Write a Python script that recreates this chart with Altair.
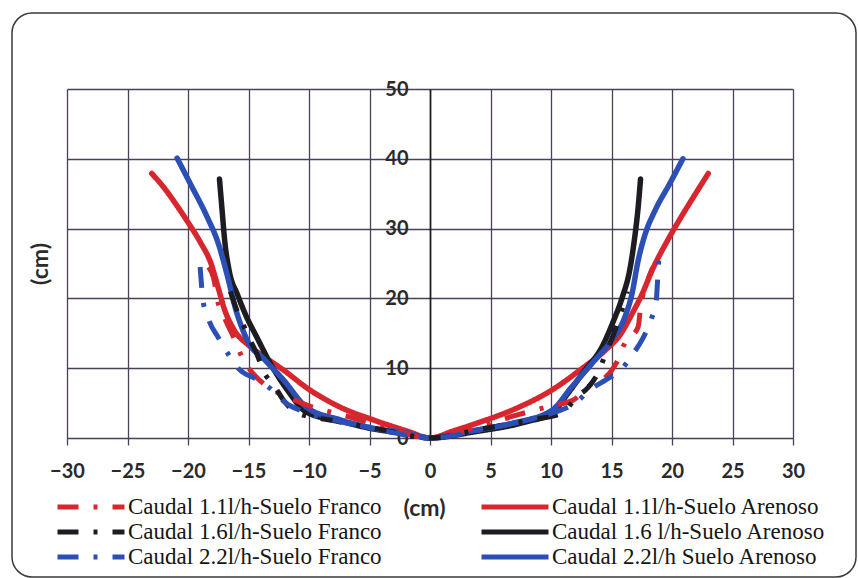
import altair as alt
import pandas as pd

# Series names, in legend order (legend columns are filled top to bottom)
SERIES = [
    "Caudal 1.1l/h-Suelo Franco",
    "Caudal 1.6l/h-Suelo Franco",
    "Caudal 2.2l/h-Suelo Franco",
    "Caudal 1.1l/h-Suelo Arenoso",
    "Caudal 1.6 l/h-Suelo Arenoso",
    "Caudal 2.2l/h Suelo Arenoso",
]
RED, BLACK, BLUE = "#d8262f", "#1c1c22", "#2b4fb5"
COLORS = [RED, BLACK, BLUE, RED, BLACK, BLUE]
DASH_DOT = [21, 15, 4, 15]
SOLID = [1, 0]
DASHES = [DASH_DOT, DASH_DOT, DASH_DOT, SOLID, SOLID, SOLID]

# Wetting front profiles: horizontal distance (cm) and depth (cm)
arenoso_11_x = [-23.0, -22.0, -21.0, -20.0, -19.0, -18.1, -17.5, -17.0, -16.2, -15.0, -13.5, -12.0, -10.2, -7.4,
                -4.7, -1.9, 0.0, 1.9, 4.0, 6.8, 10.1, 12.6, 14.5, 15.8, 16.7, 17.5, 18.4, 19.6, 20.7, 21.8, 23.0]
arenoso_11_y = [37.9, 35.9, 33.5, 30.9, 28.1, 25.0, 21.5, 18.5, 15.5, 13.3, 11.4, 9.6, 7.2, 4.4,
                2.6, 1.0, 0.0, 1.0, 2.2, 4.0, 6.9, 10.0, 12.6, 15.0, 17.8, 20.5, 24.2, 28.2, 31.5, 34.6, 37.9]

arenoso_16_x = [-17.4, -17.2, -16.95, -16.6, -15.9, -15.2, -14.3, -13.2, -11.8, -10.2, -7.4, -4.7, -1.9, 0.0,
                3.7, 7.9, 10.1, 11.4, 12.8, 14.2, 15.1, 15.9, 16.5, 16.9, 17.2, 17.4]
arenoso_16_y = [37.1, 33.0, 28.0, 24.0, 20.5, 17.5, 14.4, 10.7, 6.9, 3.7, 2.4, 1.3, 0.6, 0.0,
                0.9, 2.3, 3.6, 6.4, 9.7, 13.0, 16.5, 20.2, 24.0, 28.5, 33.0, 37.1]

arenoso_22_x = [-20.9, -19.8, -18.4, -17.5, -16.8, -16.1, -15.1, -13.6, -12.1, -10.2, -7.4, -4.7, -1.9, 0.0,
                3.7, 6.8, 10.1, 11.7, 13.4, 15.0, 16.1, 16.7, 17.2, 17.8, 18.6, 19.8, 20.9]
arenoso_22_y = [40.1, 36.4, 31.6, 27.9, 23.6, 18.7, 14.0, 11.1, 8.3, 4.4, 2.6, 1.4, 0.7, 0.0,
                1.1, 2.1, 4.0, 7.3, 10.7, 14.0, 17.3, 20.7, 25.4, 29.3, 32.6, 36.4, 40.0]

franco_11_x = [-18.3, -17.9, -17.5, -17.2, -16.9, -16.3, -15.4, -14.5, -13.2, -11.8, -10.0, -7.0, -3.5, 0.0,
               3.5, 7.0, 10.0, 11.8, 13.5, 14.5, 15.5, 16.1, 17.2, 17.4, 18.0, 18.4]
franco_11_y = [24.5, 23.0, 19.3, 18.3, 16.9, 14.7, 11.1, 9.0, 7.1, 5.9, 4.6, 3.2, 1.4, 0.0,
               1.4, 3.2, 4.6, 5.4, 7.9, 8.7, 11.1, 13.6, 15.9, 18.7, 22.6, 24.4]

franco_16_x = [-16.5, -16.0, -15.7, -15.0, -14.3, -13.8, -12.8, -12.1, -11.0, -8.0, -4.0, 0.0,
               4.0, 8.0, 11.0, 12.0, 13.1, 13.9, 14.5, 15.2, 15.8, 16.3]
franco_16_y = [21.0, 18.5, 17.3, 14.5, 12.0, 9.7, 7.3, 5.4, 3.6, 2.5, 1.2, 0.0,
               1.2, 2.5, 3.6, 5.7, 7.3, 9.4, 12.0, 15.0, 18.0, 21.0]

franco_22_x = [-19.0, -18.9, -18.8, -18.3, -17.5, -16.7, -15.8, -14.3, -13.2, -11.9, -10.5, -8.0, -4.0, 0.0,
               4.0, 8.0, 10.5, 12.0, 13.2, 14.5, 15.9, 16.8, 17.6, 18.3, 18.7, 18.8, 18.9]
franco_22_y = [24.5, 22.3, 20.1, 17.0, 14.4, 12.1, 9.9, 8.4, 7.1, 5.0, 3.8, 2.6, 1.1, 0.0,
               1.1, 2.6, 3.8, 5.0, 6.9, 8.3, 10.0, 12.1, 14.3, 17.1, 19.7, 22.3, 25.4]

x_ticks = [-30, -25, -20, -15, -10, -5, 0, 5, 10, 15, 20, 25, 30]
y_ticks = [0, 10, 20, 30, 40, 50]


def profile(name, xs, ys):
    return pd.DataFrame({"serie": name, "x": xs, "y": ys, "orden": range(len(xs))})


solid = pd.concat([
    profile(SERIES[3], arenoso_11_x, arenoso_11_y),
    profile(SERIES[4], arenoso_16_x, arenoso_16_y),
    profile(SERIES[5], arenoso_22_x, arenoso_22_y),
])
dashed = pd.concat([
    profile(SERIES[0], franco_11_x, franco_11_y),
    profile(SERIES[1], franco_16_x, franco_16_y),
    profile(SERIES[2], franco_22_x, franco_22_y),
])

W, H = 726, 349
GRID = "#4a4058"
TICK_FONT = "Lato"

legend = alt.Legend(
    title=None, orient="none", legendX=-12, legendY=406, columns=2,
    columnPadding=97, rowPadding=1, clipHeight=24,
    symbolType="stroke", symbolSize=4489, symbolStrokeWidth=5,
    labelFont="Liberation Serif", labelFontSize=23, labelColor="#151515",
    labelLimit=400, labelOffset=1,
)

x_enc = alt.X(
    "x:Q",
    scale=alt.Scale(domain=[-30, 30], nice=False, zero=False),
    axis=alt.Axis(
        values=x_ticks, grid=True, gridColor=GRID, gridWidth=1.3, gridOpacity=1,
        domain=False, tickColor=GRID, tickSize=7, tickWidth=1.3,
        labelFont=TICK_FONT, labelFontWeight="bold", labelFontSize=20, labelColor="#2a2a2a",
        labelPadding=16, labelFlush=False,
        title="(cm)", titleFont=TICK_FONT, titleFontWeight="bold", titleFontSize=23,
        titleColor="#2a2a2a", titleX=357, titleY=70, titleBaseline="middle", titleAlign="center",
    ),
)
y_enc = alt.Y(
    "y:Q",
    scale=alt.Scale(domain=[0, 50], nice=False),
    axis=alt.Axis(
        values=y_ticks, offset=-W / 2, grid=True, gridColor=GRID, gridWidth=1.3, gridOpacity=1,
        domain=True, domainColor="#1a1a1a", domainWidth=1.6, ticks=False,
        labelFont=TICK_FONT, labelFontWeight="bold", labelFontSize=20, labelColor="#2a2a2a",
        labelPadding=22,
        title="(cm)", titleFont=TICK_FONT, titleFontWeight="bold", titleFontSize=23,
        titleColor="#2a2a2a", titleX=-390, titleY=H / 2, titleAngle=-90,
        titleBaseline="middle", titleAlign="center",
    ),
)
color_enc = alt.Color("serie:N", scale=alt.Scale(domain=SERIES, range=COLORS), legend=legend)
dash_enc = alt.StrokeDash("serie:N", scale=alt.Scale(domain=SERIES, range=DASHES), legend=legend)

solid_lines = alt.Chart(solid).mark_line(
    strokeWidth=5.5, strokeCap="round", strokeJoin="round", interpolate="monotone"
).encode(x=x_enc, y=y_enc, color=color_enc, strokeDash=dash_enc, order="orden:Q")

dashed_lines = alt.Chart(dashed).mark_line(
    strokeWidth=5, strokeCap="butt", strokeJoin="round", interpolate="monotone"
).encode(x=x_enc, y=y_enc, color=color_enc, strokeDash=dash_enc, order="orden:Q")

# rounded frame around the whole figure
frame = alt.Chart(pd.DataFrame({"marco": [0]})).mark_rect(
    filled=False, stroke="#3a3a3a", strokeWidth=1.5, cornerRadius=20
).encode(
    x=alt.value(-55), x2=alt.value(789), y=alt.value(-76), y2=alt.value(488)
)

chart = alt.layer(frame, solid_lines, dashed_lines).properties(
    width=W, height=H,
    autosize=alt.AutoSizeParams(type="none"),
    padding={"left": 67, "top": 89, "right": 65, "bottom": 140},
).configure_view(
    stroke="#111111", strokeWidth=1.8
).configure(background="white")

chart.save("out.html", embed_options={"renderer": "svg", "actions": False})
